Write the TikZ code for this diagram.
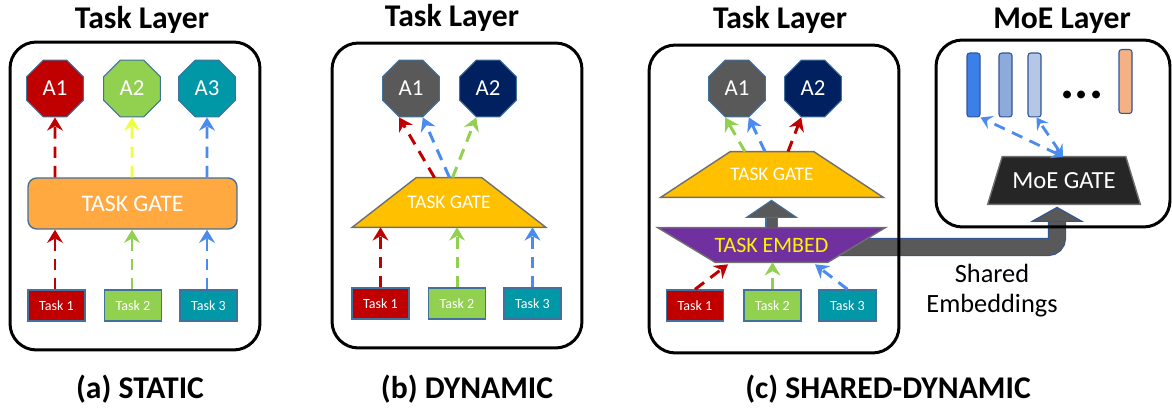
\documentclass[tikz,border=0pt]{standalone}
\usepackage{fontspec}
\setmainfont{Carlito}
\usetikzlibrary{shapes.geometric,arrows.meta,calc,backgrounds,positioning}
\definecolor{taskred}{HTML}{C00000}
\definecolor{taskgreen}{HTML}{92D050}
\definecolor{taskteal}{HTML}{0097A7}
\definecolor{arrowblue}{HTML}{4A8BF0}
\definecolor{arrowyellow}{HTML}{EEFF3F}
\definecolor{headgray}{HTML}{595959}
\definecolor{headnavy}{HTML}{002060}
\definecolor{gateorange}{HTML}{FFA940}
\definecolor{gategold}{HTML}{FFC000}
\definecolor{embedpurple}{HTML}{7030A0}
\definecolor{moeblack}{HTML}{262626}
\definecolor{edgeblue}{HTML}{41719C}
\definecolor{trapedge}{HTML}{6F6F6F}
\definecolor{baredge}{HTML}{2F5597}
\definecolor{barone}{HTML}{3C7FE8}
\definecolor{bartwo}{HTML}{8EAADB}
\definecolor{barthree}{HTML}{B4C7E7}
\definecolor{barfour}{HTML}{F4B183}
\tikzset{
    panel/.style = {draw, line width=1.7pt, rounded corners=15pt, inner sep=0pt},
    title/.style = {font=\bfseries\fontsize{18}{21}\selectfont, anchor=base},
    caption/.style = {font=\bfseries\fontsize{18}{21}\selectfont, anchor=base},
    octa/.style = {regular polygon, regular polygon sides=8, minimum size=35pt,
        inner sep=0pt, draw=edgeblue, line width=0.6pt, text=white,
        font=\fontsize{13}{15}\selectfont},
    taskbox/.style = {draw=edgeblue, line width=0.8pt, minimum width=32.4pt,
        minimum height=17.6pt, inner sep=0pt, text=white,
        font=\fontsize{8}{9}\selectfont},
    trapbox/.style = {inner sep=0pt, text=white},
    trapline/.style = {draw=trapedge, line width=0.8pt},
    dasharrow/.style = {line width=1.7pt, dash pattern=on 6.5pt off 4.5pt,
        -{Stealth[length=7.5pt,width=9pt,inset=2.5pt]}},
    moearrow/.style = {line width=1.6pt, dash pattern=on 6.5pt off 4.5pt,
        {Stealth[length=6.5pt,width=8pt,inset=2.5pt]}-{Stealth[length=6.5pt,width=8pt,inset=2.5pt]}},
    bar/.style = {draw=baredge, line width=0.6pt, rounded corners=1.5pt,
        minimum width=7.4pt, minimum height=36.4pt, inner sep=0pt}
}
% trapezoid behind a node: node, inset of the narrow side, fill
\newcommand{\trapup}[3]{\filldraw[trapline, fill=#3]
    ($(#1.north west)+(#2,0)$) -- ($(#1.north east)+(-#2,0)$) --
    (#1.south east) -- (#1.south west) -- cycle;}
\newcommand{\trapdown}[3]{\filldraw[trapline, fill=#3]
    (#1.north west) -- (#1.north east) --
    ($(#1.south east)+(-#2,0)$) -- ($(#1.south west)+(#2,0)$) -- cycle;}

\begin{document}
\begin{tikzpicture}[x=0.02cm, y=0.02cm]
    \useasboundingbox (0,0) rectangle (1172,408);

    % (a) static
    \node[panel, minimum width=5cm, minimum height=6.16cm] (boxa) at (135,212) {};
    \node[title] (titlea) at (142,379) {Task Layer};
    \node[octa, fill=taskred] (Aa1) at (55,319.5) {A1};
    \node[octa, fill=taskgreen] (Aa2) at (132,319.5) {A2};
    \node[octa, fill=taskteal] (Aa3) at (207,319.5) {A3};
    \node[draw=edgeblue, line width=0.8pt, fill=gateorange, rounded corners=5pt,
        minimum width=4.18cm, minimum height=1.02cm, text=white,
        font=\fontsize{13.5}{16}\selectfont] (gatea) at (132.5,204.5) {TASK GATE};
    \node[taskbox, fill=taskred] (Ta1) at (56.5,102.5) {Task 1};
    \node[taskbox, fill=taskgreen] (Ta2) at (133,102.5) {Task 2};
    \node[taskbox, fill=taskteal] (Ta3) at (208.5,102.5) {Task 3};
    \foreach \i/\lo/\up in {1/taskred/taskred, 2/taskgreen/arrowyellow, 3/arrowblue/arrowblue}{
        \draw[dasharrow, \lo] (Ta\i.north -| Aa\i) -- (gatea.south -| Aa\i);
        \draw[dasharrow, \up] (gatea.north -| Aa\i) -- (Aa\i.south);
    }
    \node[caption] (capa) at (140,9) {(a) STATIC};

    % (b) dynamic
    \node[panel, minimum width=5cm, minimum height=6.1cm] (boxb) at (457,212.5) {};
    \node[title] (titleb) at (452,381) {Task Layer};
    \node[octa, fill=headgray] (Ab1) at (411,319.5) {A1};
    \node[octa, fill=headnavy] (Ab2) at (488,319.5) {A2};
    \node[trapbox, minimum width=3.86cm, minimum height=0.98cm,
        font=\fontsize{11}{13}\selectfont] (gateb) at (449,205.5) {TASK GATE};
    \node[taskbox, fill=taskred] (Tb1) at (380.5,104.5) {Task 1};
    \node[taskbox, fill=taskgreen] (Tb2) at (457,104.5) {Task 2};
    \node[taskbox, fill=taskteal] (Tb3) at (532.5,104.5) {Task 3};
    \foreach \i/\c in {1/taskred, 2/taskgreen, 3/arrowblue}{
        \draw[dasharrow, \c] (Tb\i.north) -- (Tb\i.north |- gateb.south);
    }
    \draw[dasharrow, taskred] ($(gateb.north)+(-14.5,0)$) -- ($(Ab1.south)+(-11.8,0)$);
    \draw[dasharrow, arrowblue] ($(gateb.north)+(0.5,0)$) -- ($(Ab1.south)+(11.8,0)$);
    \draw[dasharrow, taskgreen] ($(gateb.north)+(3.5,0)$) -- ($(Ab2.south)+(-11.8,0)$);
    \node[caption] (capb) at (467,9) {(b) DYNAMIC};

    % (c) shared-dynamic
    \node[panel, minimum width=5cm, minimum height=6.16cm] (boxc) at (774,209) {};
    \node[title] (titlec) at (780,379) {Task Layer};
    \node[octa, fill=headgray] (Ac1) at (737,319.5) {A1};
    \node[octa, fill=headnavy] (Ac2) at (813,319.5) {A2};
    \node[trapbox, minimum width=4.44cm, minimum height=0.9cm,
        font=\fontsize{11}{13}\selectfont] (gatec) at (772,233.5) {TASK GATE};
    \node[trapbox, minimum width=4.54cm, minimum height=0.68cm, text=yellow,
        font=\fontsize{12.5}{14}\selectfont] (embed) at (771.5,163) {TASK EMBED};
    \node[taskbox, fill=taskred] (Tc1) at (695,102.5) {Task 1};
    \node[taskbox, fill=taskgreen] (Tc2) at (772.5,102.5) {Task 2};
    \node[taskbox, fill=taskteal] (Tc3) at (847.5,102.5) {Task 3};
    \draw[dasharrow, taskred] (Tc1.north) -- ($(embed.south)+(-43.5,-2)$);
    \draw[dasharrow, taskgreen] (Tc2.north) -- (Tc2.north |- embed.south);
    \draw[dasharrow, arrowblue] (Tc3.north) -- ($(embed.south)+(43.5,-2)$);
    \draw[dasharrow, taskgreen] ($(gatec.north)+(-27,0)$) -- ($(Ac1.south)+(-11.8,0)$);
    \draw[dasharrow, arrowblue] ($(gatec.north)+(-7,0)$) -- ($(Ac1.south)+(11.8,0)$);
    \draw[dasharrow, taskred] ($(gatec.north)+(16,0)$) -- ($(Ac2.south)+(-11.8,0)$);
    % block arrow embed -> gate
    \coordinate (tipc) at ($(gatec.south -| embed.north)+(0,-3)$);
    \draw[line width=6.9pt, edgeblue] (embed.north) -- ($(tipc)+(0,-17)$);
    \draw[line width=5.7pt, headgray] (embed.north) -- ($(tipc)+(0,-17.5)$);
    \filldraw[draw=edgeblue, fill=headgray, line width=0.6pt]
        ($(tipc)+(-25,-17)$) -- (tipc) -- ($(tipc)+(25,-17)$) -- cycle;
    \node[caption] (capc) at (888,9) {(c) SHARED-DYNAMIC};

    % MoE layer
    \node[panel, minimum width=4.68cm, minimum height=3.74cm] (boxm) at (1053,274.5) {};
    \node[title] (titlem) at (1062,379) {MoE Layer};
    \node[bar, fill=barone] (bar1) at (973.5,323) {};
    \node[bar, fill=bartwo] (bar2) at (1005.5,323) {};
    \node[bar, fill=barthree] (bar3) at (1034.5,323) {};
    \node[bar, fill=barfour] (bar4) at (1125.5,326.5) {};
    \node[anchor=base, font=\bfseries\fontsize{30}{30}\selectfont] (dots) at (1082,309) {...};
    \node[trapbox, minimum width=3.04cm, minimum height=0.94cm,
        font=\fontsize{14}{16}\selectfont] (moegate) at (1064,227.5) {MoE GATE};
    \draw[moearrow, arrowblue] ($(moegate.north)+(-1,0)$) -- (bar1.south east);
    \draw[moearrow, arrowblue] ($(moegate.north)+(-1,0)$) -- ($(bar3.south)+(2,0)$);
    \node[align=center, font=\fontsize{15}{17}\selectfont] (shared) at (992,117) {Shared\\Embeddings};

    % trapezoid bodies and the shared embeddings arrow, behind the texts
    \coordinate (tipm) at ($(moegate.south)+(-7,-3)$);
    \begin{scope}[on background layer]
        \draw[line width=10.3pt, baredge, rounded corners=5pt]
            ($(embed.center)+(0,-2)$) -| ($(tipm)+(0,-14)$);
        \draw[line width=9.1pt, headgray, rounded corners=5pt]
            ($(embed.center)+(0,-2)$) -| ($(tipm)+(0,-14.5)$);
        \trapup{gateb}{64}{gategold}
        \trapup{gatec}{69.5}{gategold}
        \trapdown{embed}{57.5}{embedpurple}
        \trapup{moegate}{14.5}{moeblack}
    \end{scope}
    \filldraw[draw=baredge, fill=headgray, line width=0.6pt]
        ($(tipm)+(-25,-14)$) -- (tipm) -- ($(tipm)+(25,-14)$) -- cycle;
\end{tikzpicture}
\end{document}
